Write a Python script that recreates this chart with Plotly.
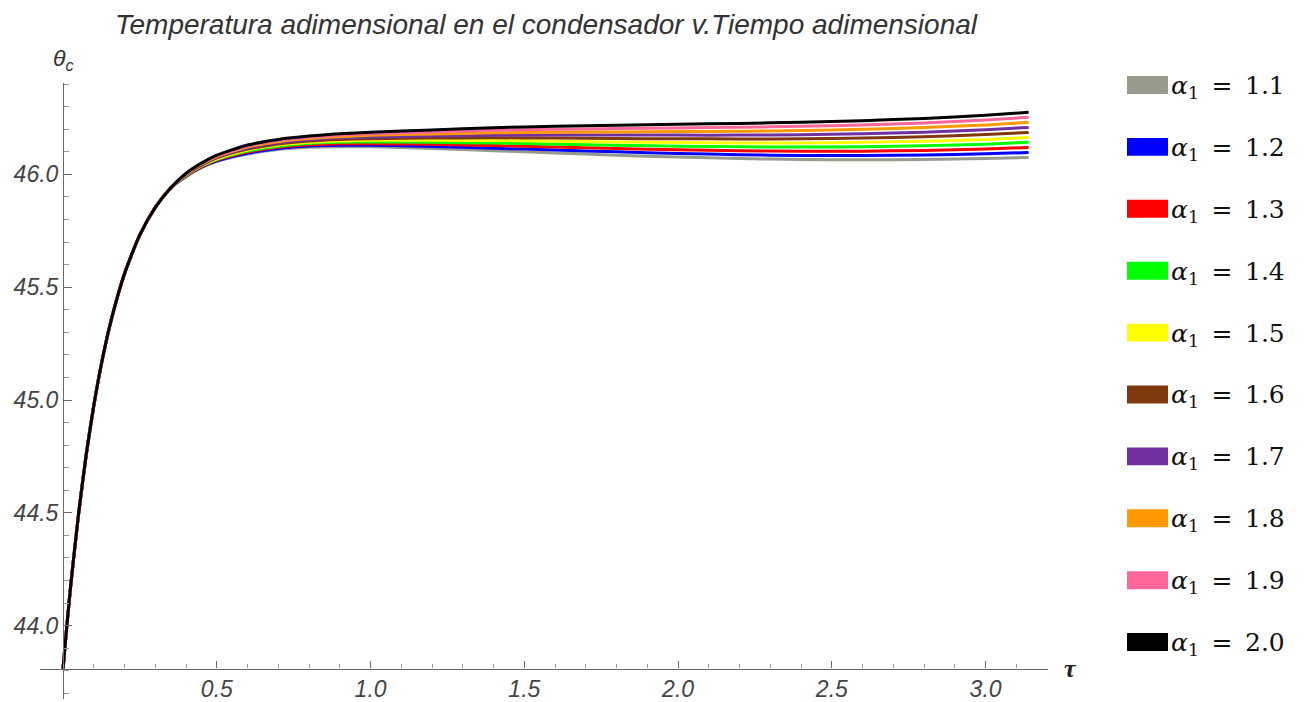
import plotly.graph_objects as go

# Dimensionless time samples
tau = [0, 0.01, 0.025, 0.05, 0.075, 0.1, 0.13, 0.16, 0.2, 0.25, 0.3, 0.35,
       0.4, 0.45, 0.5, 0.6, 0.7, 0.8, 0.9, 1.0, 1.2, 1.4, 1.6, 1.8, 2.0,
       2.2, 2.4, 2.6, 2.8, 3.0, 3.14]

# Initial rise, shared by every alpha_1 (tau = 0 ... 0.35)
theta_rise = [43.81, 43.966, 44.18, 44.49, 44.755, 44.976, 45.195, 45.373,
              45.561, 45.733, 45.854, 45.94]

# Condenser temperature after the rise (tau = 0.4 ... 3.14) for each alpha_1
theta_a11 = [45.990, 46.030, 46.057, 46.090, 46.110, 46.120, 46.123, 46.122, 46.115, 46.105,
             46.095, 46.085, 46.077, 46.070, 46.066, 46.065, 46.066, 46.070, 46.075]
theta_a12 = [45.992, 46.032, 46.060, 46.094, 46.115, 46.126, 46.129, 46.129, 46.124, 46.116,
             46.108, 46.100, 46.093, 46.087, 46.084, 46.084, 46.086, 46.091, 46.097]
theta_a13 = [45.993, 46.034, 46.063, 46.099, 46.120, 46.131, 46.136, 46.136, 46.133, 46.128,
             46.121, 46.115, 46.109, 46.105, 46.103, 46.103, 46.106, 46.113, 46.119]
theta_a14 = [45.995, 46.037, 46.066, 46.103, 46.125, 46.137, 46.142, 46.144, 46.142, 46.139,
             46.134, 46.129, 46.125, 46.122, 46.121, 46.123, 46.127, 46.134, 46.142]
theta_a15 = [45.997, 46.039, 46.069, 46.108, 46.130, 46.142, 46.148, 46.151, 46.151, 46.150,
             46.147, 46.144, 46.141, 46.139, 46.139, 46.142, 46.147, 46.155, 46.164]
theta_a16 = [45.998, 46.041, 46.073, 46.112, 46.135, 46.148, 46.155, 46.158, 46.161, 46.162,
             46.161, 46.159, 46.158, 46.157, 46.158, 46.161, 46.167, 46.177, 46.186]
theta_a17 = [46.000, 46.043, 46.076, 46.117, 46.140, 46.153, 46.161, 46.165, 46.170, 46.173,
             46.174, 46.174, 46.174, 46.174, 46.176, 46.180, 46.187, 46.198, 46.208]
theta_a18 = [46.002, 46.046, 46.079, 46.121, 46.145, 46.159, 46.167, 46.173, 46.179, 46.184,
             46.187, 46.188, 46.190, 46.191, 46.194, 46.200, 46.208, 46.219, 46.231]
theta_a19 = [46.003, 46.048, 46.082, 46.126, 46.150, 46.164, 46.174, 46.180, 46.188, 46.196,
             46.200, 46.203, 46.206, 46.209, 46.213, 46.219, 46.228, 46.241, 46.253]
theta_a20 = [46.005, 46.050, 46.085, 46.130, 46.155, 46.170, 46.180, 46.187, 46.197, 46.207,
             46.213, 46.218, 46.222, 46.226, 46.231, 46.238, 46.248, 46.262, 46.275]

alpha_labels = ["1.1", "1.2", "1.3", "1.4", "1.5", "1.6", "1.7", "1.8", "1.9", "2.0"]
series = [theta_a11, theta_a12, theta_a13, theta_a14, theta_a15,
          theta_a16, theta_a17, theta_a18, theta_a19, theta_a20]
colors = ["#979b8d", "#0000ff", "#ff0000", "#00ff00", "#ffff00",
          "#80380e", "#7030a0", "#ff9900", "#ff6699", "#000000"]

x_ticks = [0.5, 1.0, 1.5, 2.0, 2.5, 3.0]
y_ticks = [44.0, 44.5, 45.0, 45.5, 46.0]

# Axis ranges and the point where the axes cross
X_MIN, X_MAX = -0.075, 3.203
Y_MIN, Y_MAX = 43.675, 46.405
X_CROSS, Y_CROSS = 0.0, 43.81

W, H = 1305, 702
M_L, M_R, M_T, M_B = 40, W - 1048, 83, 0
PW, PH = W - M_L - M_R, H - M_T - M_B


def px_to_paper(px, py):
    return (px - M_L) / PW, (H - M_B - py) / PH


fig = go.Figure()
for vals, col, lab in zip(series, colors, alpha_labels):
    fig.add_trace(go.Scatter(
        x=tau, y=theta_rise + vals, mode="lines", name="α1 = " + lab,
        line=dict(color=col, width=3, shape="spline", smoothing=0.6),
        showlegend=False, hoverinfo="skip",
    ))

axis_color = "#6a6a6a"
tick_font = dict(family="Liberation Sans", size=23, color="#444444", style="italic")

fig.update_xaxes(
    range=[X_MIN, X_MAX], domain=[0, 1], anchor="free",
    position=(Y_CROSS - Y_MIN) / (Y_MAX - Y_MIN),
    showline=True, linecolor=axis_color, linewidth=1.2,
    showgrid=False, zeroline=False,
    tickmode="array", tickvals=x_ticks, ticktext=[f"{v:.1f}" for v in x_ticks],
    ticks="inside", ticklen=7, tickwidth=1, tickcolor=axis_color,
    minor=dict(dtick=0.1, tick0=0, ticks="inside", ticklen=4, tickcolor="#999999", showgrid=False),
    tickfont=tick_font,
)
fig.update_yaxes(
    range=[Y_MIN, Y_MAX], domain=[0, 1], anchor="free",
    position=(X_CROSS - X_MIN) / (X_MAX - X_MIN),
    showline=True, linecolor=axis_color, linewidth=1.2,
    showgrid=False, zeroline=False,
    tickmode="array", tickvals=y_ticks, ticktext=[f"{v:.1f}" for v in y_ticks],
    ticks="inside", ticklen=8, tickwidth=1, tickcolor=axis_color,
    minor=dict(dtick=0.1, tick0=0, ticks="inside", ticklen=5, tickcolor="#999999", showgrid=False),
    tickfont=tick_font,
)

annotations = []
shapes = []

# Axis labels
ax, ay = px_to_paper(63, 59)
annotations.append(dict(x=ax, y=ay, xref="paper", yref="paper", showarrow=False,
                        xanchor="center", yanchor="middle",
                        text="<i>θ</i><sub><i>c</i></sub>",
                        font=dict(family="Liberation Sans", size=23, color="#333333")))
ax, ay = px_to_paper(1070, 671)
annotations.append(dict(x=ax, y=ay, xref="paper", yref="paper", showarrow=False,
                        xanchor="center", yanchor="middle",
                        text="<b><i>τ</i></b>",
                        font=dict(family="Liberation Serif", size=26, color="#222222")))

# Legend: colour swatch plus label for each alpha_1
for i, (col, lab) in enumerate(zip(colors, alpha_labels)):
    yc = 85 + i * 62.2
    x0, y0 = px_to_paper(1127, yc + 9)
    x1, y1 = px_to_paper(1168, yc - 9)
    shapes.append(dict(type="rect", xref="paper", yref="paper", x0=x0, x1=x1, y0=y0, y1=y1,
                       fillcolor=col, line=dict(width=0)))
    tx, ty = px_to_paper(1169, yc + 2)
    annotations.append(dict(x=tx, y=ty, xref="paper", yref="paper", showarrow=False,
                            xanchor="left", yanchor="middle",
                            text=f"<i>α</i><sub>1</sub>\u2002=\u2002{lab}",
                            font=dict(family="DejaVu Serif", size=25, color="#111111")))

fig.update_layout(
    width=W, height=H,
    margin=dict(l=M_L, r=M_R, t=M_T, b=M_B),
    paper_bgcolor="white", plot_bgcolor="white",
    title=dict(text="Temperatura adimensional en el condensador v.Tiempo adimensional",
               x=546 / W, xanchor="center", y=1 - 24 / H, yanchor="middle",
               font=dict(family="Liberation Sans", size=28, color="#333333", style="italic")),
    annotations=annotations, shapes=shapes,
)

fig.write_html("out.html")
